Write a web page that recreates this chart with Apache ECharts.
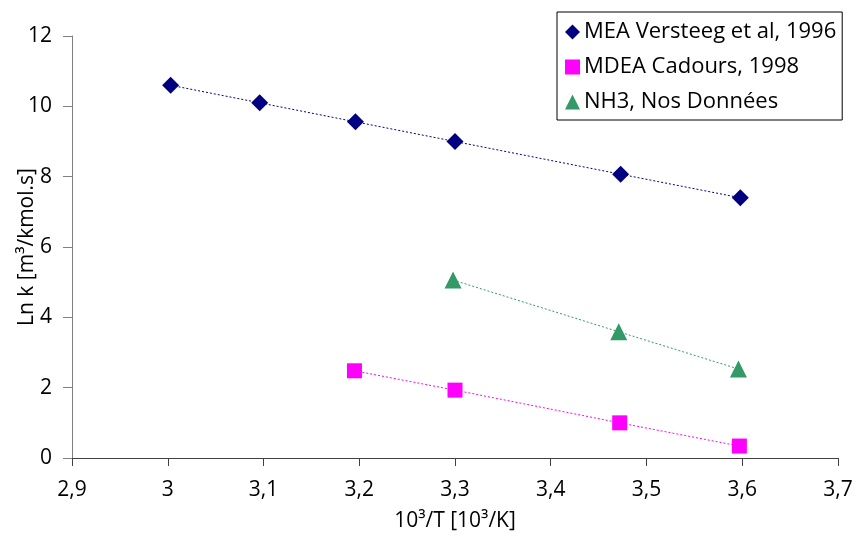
<!DOCTYPE html>
<html><head><meta charset="utf-8">
<script src="https://cdn.jsdelivr.net/npm/echarts@6/dist/echarts.min.js"></script>
<style>html,body{margin:0;padding:0;background:#fff}#c{width:856px;height:536px}</style>
</head><body><div id="c"></div>
<script>
const xTicks = ['2,9','3','3,1','3,2','3,3','3,4','3,5','3,6','3,7'];
const yTicks = [0,2,4,6,8,10,12];
const meaX = [3.003, 3.096, 3.196, 3.300, 3.473, 3.598];
const meaY = [10.60, 10.10, 9.56, 9.00, 8.07, 7.40];
const mdeaX = [3.195, 3.300, 3.472, 3.597];
const mdeaY = [2.48, 1.93, 1.00, 0.34];
const nh3X = [3.298, 3.471, 3.596];
const nh3Y = [5.06, 3.59, 2.53];
const names = ['MEA Versteeg et al, 1996','MDEA Cadours, 1998','NH3, Nos Données'];

const FONT = 'Open Sans';
function pts(xs, ys){ return xs.map((x,i)=>[x, ys[i]]); }
function ser(name, xs, ys, color, symbol, size){
  return {name, type:'line', data:pts(xs,ys), symbol, symbolSize:size,
    itemStyle:{color}, lineStyle:{color, width:1, type:[2,2]}, showSymbol:true, z:3};
}
const chart = echarts.init(document.getElementById('c'), null, {renderer:'canvas'});
chart.setOption({
  animation:false,
  textStyle:{fontFamily:FONT},
  grid:{left:72, right:18, top:36, bottom:78, containLabel:false, outerBoundsMode:'none'},
  xAxis:{type:'value', min:2.9, max:3.7, interval:0.1,
    splitLine:{show:false},
    axisLine:{lineStyle:{color:'#404040', width:1}},
    axisTick:{show:true, length:8, inside:false, lineStyle:{color:'#404040'}},
    axisLabel:{margin:22, fontSize:21, color:'#000', fontFamily:FONT,
      formatter:(v)=>{const i=Math.round((v-2.9)*10); return xTicks[i]!==undefined?xTicks[i]:'';}},
    name:'10³/T [10³/K]', nameLocation:'middle', nameGap:53, nameMoveOverlap:false,
    nameTextStyle:{fontSize:21, color:'#000', fontFamily:FONT}
  },
  yAxis:{type:'value', min:0, max:12, interval:2,
    splitLine:{show:false},
    axisLine:{show:true, lineStyle:{color:'#808080', width:1}},
    axisTick:{show:true, length:9, lineStyle:{color:'#808080'}},
    axisLabel:{margin:20, fontSize:21, color:'#000', fontFamily:FONT,
      formatter:(v)=>String(yTicks[yTicks.indexOf(v)])},
    name:'Ln k [m³/kmol.s]', nameLocation:'middle', nameGap:34, nameRotate:90, nameMoveOverlap:false,
    nameTextStyle:{fontSize:21, color:'#000', fontFamily:FONT}
  },
  legend:{orient:'vertical', left:557, top:12, padding:[9,6,7,8], itemGap:13,
    backgroundColor:'#fff', borderColor:'#000', borderWidth:1,
    itemWidth:15, itemHeight:15,
    textStyle:{fontSize:22, color:'#000', fontFamily:FONT, padding:[0,0,0,-1]},
    data:[{name:names[0], icon:'diamond'},{name:names[1], icon:'rect'},{name:names[2], icon:'triangle'}]
  },
  series:[
    ser(names[0], meaX, meaY, '#000080', 'diamond', 17),
    ser(names[1], mdeaX, mdeaY, '#FF00FF', 'rect', 15),
    ser(names[2], nh3X, nh3Y, '#339966', 'triangle', 17)
  ]
});
</script></body></html>
